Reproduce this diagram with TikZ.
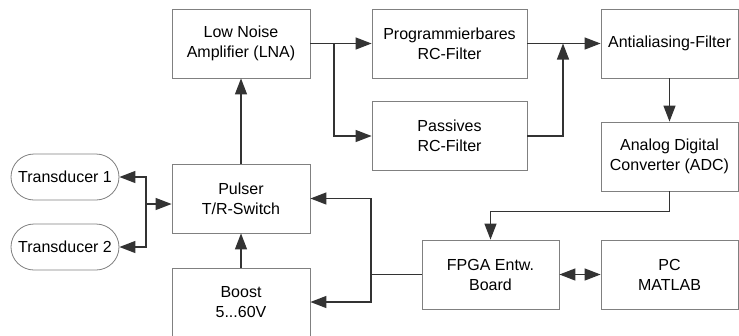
\documentclass[tikz,border=0pt]{standalone}
\usepackage{fontspec}
\setmainfont{Liberation Sans}
\usetikzlibrary{arrows.meta}
\tikzset{
  block/.style={draw=black!50,line width=0.8pt,minimum width=138pt,minimum height=69pt,inner sep=0pt,align=center},
  wide/.style={block,minimum width=155pt},
  trans/.style={draw=black!50,line width=0.8pt,rounded corners=23pt,minimum width=108pt,minimum height=46pt,inner sep=0pt},
  tip/.tip={Triangle[length=16pt,width=12pt]},
  conn/.style={line width=1.3pt,draw=black!80,-tip}
}
\begin{document}
\begin{tikzpicture}[x=1pt,y=-1pt,font=\fontsize{16}{20}\selectfont]
\useasboundingbox (0,0) rectangle (739,335);

\node[block] (lna) at (241,43.5) {Low Noise\\Amplifier (LNA)};
\node[wide] (prog) at (449.5,43.5) {Programmierbares\\RC-Filter};
\node[wide] (pass) at (449.5,136) {Passives\\RC-Filter};
\node[block,minimum width=137pt] (aaf) at (669.5,43.5) {Antialiasing-Filter};
\node[block,minimum width=137pt] (adc) at (669.5,156.5) {Analog Digital\\Converter (ADC)};
\node[block] (pulser) at (241,198.5) {Pulser\\T/R-Switch};
\node[block,minimum height=68pt] (boost) at (241,302) {Boost\\5...60V};
\node[block,minimum width=137pt] (fpga) at (490.5,274.5) {FPGA Entw.\\Board};
\node[block,minimum width=137pt] (pc) at (669.5,274.5) {PC\\MATLAB};
\node[trans] (t1) at (65,177) {Transducer 1};
\node[trans] (t2) at (65,247) {Transducer 2};

\coordinate (split) at (334,43.5);
\coordinate (merge) at (563,43.5);
\coordinate (bus) at (371,274.5);
\coordinate (tj) at (146,204);

\draw[conn] (lna.east) -- (prog.west);
\draw[conn] (split) |- (pass.west);
\draw[conn] (prog.east) -- (aaf.west);
\draw[conn] (pass.east) -| (merge);
\draw[conn] (aaf.south) -- (adc.north);
\draw[conn] (adc.south) -- ++(0,20) -| (fpga.north);
\draw[conn,tip-tip] (fpga.east) -- (pc.west);
\draw[conn] (fpga.west) -- (bus) |- (pulser.east);
\draw[conn] (bus) |- (boost.east);
\draw[conn] (pulser.north) -- (lna.south);
\draw[conn] (boost.north) -- (pulser.south);
\draw[conn] (tj) -- (tj -| pulser.west);
\draw[conn] (tj) |- (t1.east);
\draw[conn] (tj) |- (t2.east);
\end{tikzpicture}
\end{document}
